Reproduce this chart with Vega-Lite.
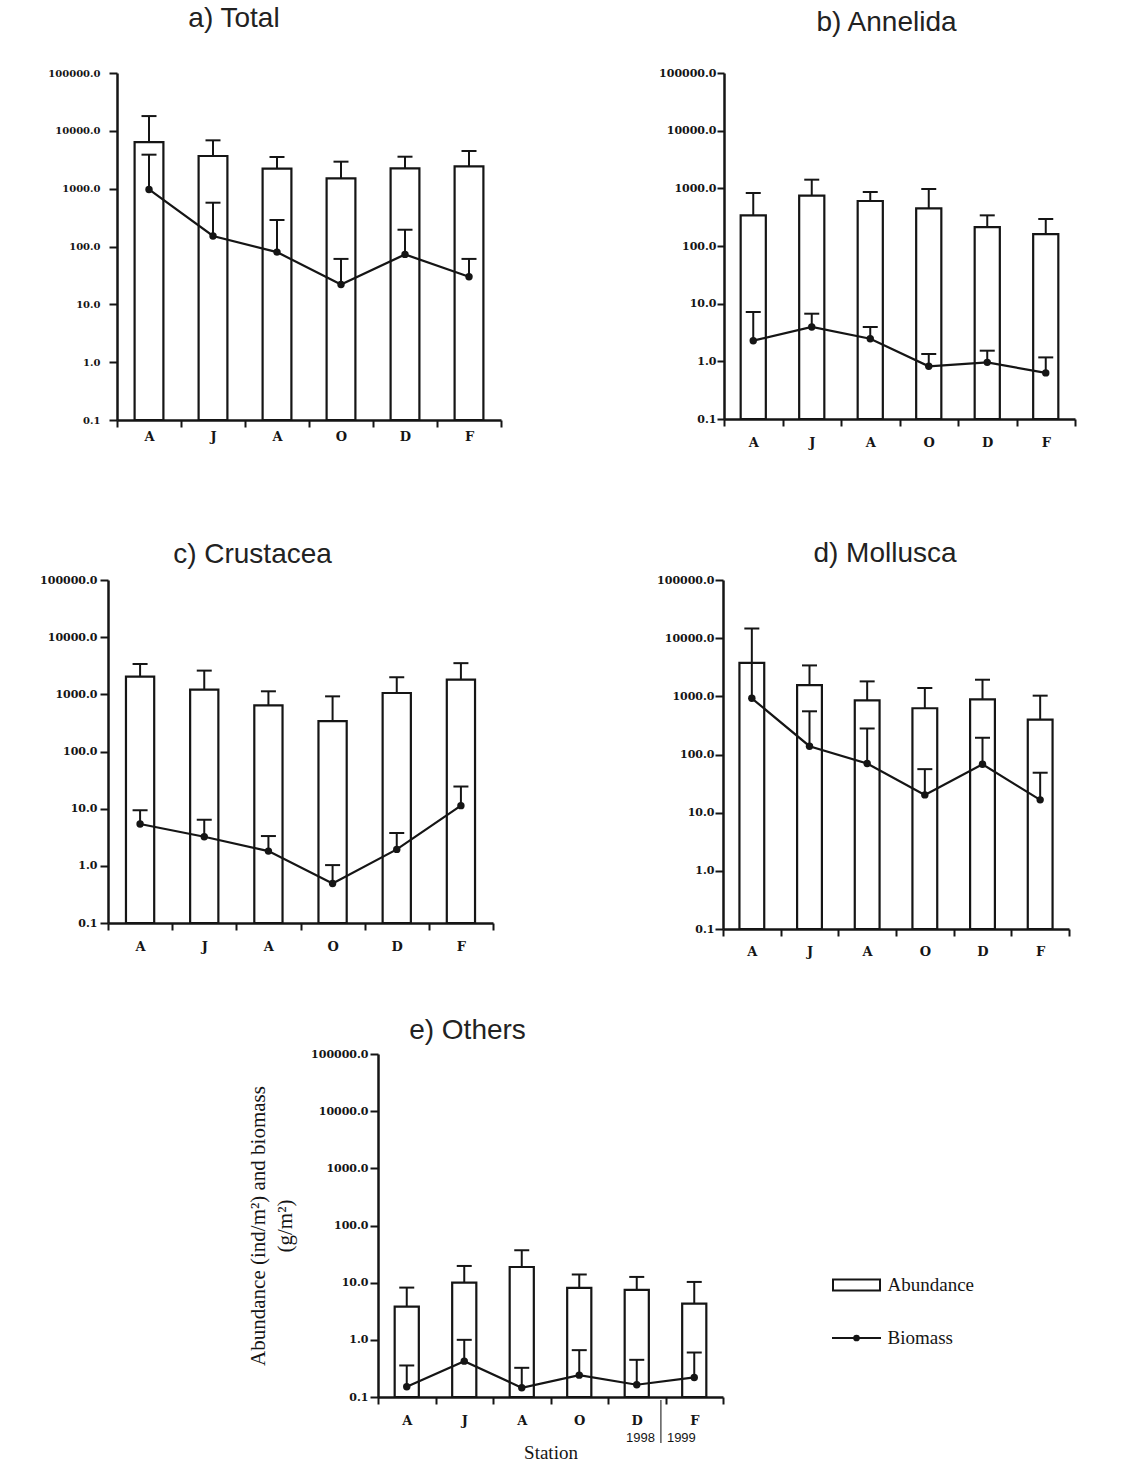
{
  "$schema": "https://vega.github.io/schema/vega-lite/v6.json",
  "padding": {"left": 37, "top": 5, "right": 5, "bottom": 2},
  "background": "white",
  "datasets": {
    "benthos": [
      {"taxon": "Total", "month": "Apr", "abundance": 6400, "abundanceErr": 18000, "biomass": 970, "biomassErr": 3870},
      {"taxon": "Total", "month": "Jun", "abundance": 3670, "abundanceErr": 6850, "biomass": 152, "biomassErr": 572},
      {"taxon": "Total", "month": "Aug", "abundance": 2220, "abundanceErr": 3530, "biomass": 80, "biomassErr": 287},
      {"taxon": "Total", "month": "Oct", "abundance": 1510, "abundanceErr": 2930, "biomass": 22, "biomassErr": 61},
      {"taxon": "Total", "month": "Dec", "abundance": 2250, "abundanceErr": 3570, "biomass": 73, "biomassErr": 195},
      {"taxon": "Total", "month": "Feb", "abundance": 2430, "abundanceErr": 4480, "biomass": 30, "biomassErr": 61},
      {"taxon": "Annelida", "month": "Apr", "abundance": 340, "abundanceErr": 830, "biomass": 2.28, "biomassErr": 7.17},
      {"taxon": "Annelida", "month": "Jun", "abundance": 747, "abundanceErr": 1413, "biomass": 3.94, "biomassErr": 6.7},
      {"taxon": "Annelida", "month": "Aug", "abundance": 603, "abundanceErr": 863, "biomass": 2.47, "biomassErr": 3.94},
      {"taxon": "Annelida", "month": "Oct", "abundance": 450, "abundanceErr": 973, "biomass": 0.82, "biomassErr": 1.34},
      {"taxon": "Annelida", "month": "Dec", "abundance": 213, "abundanceErr": 340, "biomass": 0.96, "biomassErr": 1.53},
      {"taxon": "Annelida", "month": "Feb", "abundance": 161, "abundanceErr": 294, "biomass": 0.63, "biomassErr": 1.17},
      {"taxon": "Crustacea", "month": "Apr", "abundance": 2040, "abundanceErr": 3410, "biomass": 5.4, "biomassErr": 9.4},
      {"taxon": "Crustacea", "month": "Jun", "abundance": 1210, "abundanceErr": 2600, "biomass": 3.23, "biomassErr": 6.4},
      {"taxon": "Crustacea", "month": "Aug", "abundance": 641, "abundanceErr": 1130, "biomass": 1.81, "biomassErr": 3.32},
      {"taxon": "Crustacea", "month": "Oct", "abundance": 340, "abundanceErr": 922, "biomass": 0.49, "biomassErr": 1.03},
      {"taxon": "Crustacea", "month": "Dec", "abundance": 1055, "abundanceErr": 1990, "biomass": 1.94, "biomassErr": 3.75},
      {"taxon": "Crustacea", "month": "Feb", "abundance": 1810, "abundanceErr": 3510, "biomass": 11.3, "biomassErr": 24.4},
      {"taxon": "Mollusca", "month": "Apr", "abundance": 3770, "abundanceErr": 14600, "biomass": 925, "biomassErr": 3750},
      {"taxon": "Mollusca", "month": "Jun", "abundance": 1560, "abundanceErr": 3400, "biomass": 139, "biomassErr": 553},
      {"taxon": "Mollusca", "month": "Aug", "abundance": 855, "abundanceErr": 1807, "biomass": 70, "biomassErr": 280},
      {"taxon": "Mollusca", "month": "Oct", "abundance": 624, "abundanceErr": 1390, "biomass": 20.2, "biomassErr": 56},
      {"taxon": "Mollusca", "month": "Dec", "abundance": 889, "abundanceErr": 1930, "biomass": 68, "biomassErr": 194},
      {"taxon": "Mollusca", "month": "Feb", "abundance": 399, "abundanceErr": 1027, "biomass": 16.6, "biomassErr": 48.6},
      {"taxon": "Others", "month": "Apr", "abundance": 3.82, "abundanceErr": 8.2, "biomass": 0.151, "biomassErr": 0.356},
      {"taxon": "Others", "month": "Jun", "abundance": 10, "abundanceErr": 19.6, "biomass": 0.424, "biomassErr": 1.0},
      {"taxon": "Others", "month": "Aug", "abundance": 18.8, "abundanceErr": 36.9, "biomass": 0.145, "biomassErr": 0.324},
      {"taxon": "Others", "month": "Oct", "abundance": 8.1, "abundanceErr": 13.9, "biomass": 0.241, "biomassErr": 0.66},
      {"taxon": "Others", "month": "Dec", "abundance": 7.5, "abundanceErr": 12.6, "biomass": 0.164, "biomassErr": 0.447},
      {"taxon": "Others", "month": "Feb", "abundance": 4.3, "abundanceErr": 10.3, "biomass": 0.22, "biomassErr": 0.6}
    ]
  },
  "config": {
    "view": {"stroke": null},
    "title": {"font": "Liberation Sans", "fontSize": 28, "fontWeight": "normal", "color": "#222222", "anchor": "middle", "frame": "group", "baseline": "alphabetic"},
    "axis": {
      "grid": false,
      "domainColor": "#151515", "domainWidth": 2.5,
      "tickColor": "#151515", "tickWidth": 2,
      "labelFont": "DejaVu Serif", "labelFontWeight": "bold", "labelColor": "#151515",
      "labelOverlap": false
    },
    "axisX": {"tickSize": 7, "labelFontSize": 13, "labelAngle": 0},
    "axisY": {"tickSize": 8, "labelFontSize": 11}
  },
  "spacing": 38,
  "vconcat": [
    {
      "bounds": "flush",
      "spacing": 8,
      "hconcat": [
        {"width": 1, "height": 347, "data": {"values": []}, "mark": "text"},
        {
          "bounds": "flush",
          "spacing": 223,
          "hconcat": [
            {
              "width": 384, "height": 347,
              "data": {"name": "benthos"},
              "transform": [{"filter": "datum.taxon === 'Total'"}],
              "title": {"text": "a) Total", "dx": -75, "offset": 35},
              "encoding": {
                "x": {"field": "month", "type": "nominal", "sort": ["Apr", "Jun", "Aug", "Oct", "Dec", "Feb"],
                      "scale": {"paddingInner": 0, "paddingOuter": 0},
                      "axis": {"title": null, "labelExpr": "substring(datum.label, 0, 1)", "tickBand": "extent", "labelPadding": 3.5, "minExtent": 82, "maxExtent": 82}}
              },
              "layer": [
                {"mark": {"type": "bar", "width": {"band": 0.45}, "fill": "white", "stroke": "#151515", "strokeWidth": 2.2},
                 "encoding": {"y": {"field": "abundance", "type": "quantitative", "title": null,
                                    "scale": {"type": "log", "domain": [0.1, 100000], "nice": false},
                                    "axis": {"values": [0.1, 1, 10, 100, 1000, 10000, 100000], "format": ".1f", "labelPadding": 9, "labelFontSize": 10, "minExtent": 80, "maxExtent": 80}},
                              "y2": {"datum": 0.1}}},
                {"mark": {"type": "rule", "stroke": "#151515", "strokeWidth": 2},
                 "encoding": {"y": {"field": "abundance", "type": "quantitative", "title": null}, "y2": {"field": "abundanceErr"}}},
                {"mark": {"type": "tick", "orient": "horizontal", "size": 15, "thickness": 2, "color": "#151515", "opacity": 1},
                 "encoding": {"y": {"field": "abundanceErr", "type": "quantitative", "title": null}}},
                {"mark": {"type": "rule", "stroke": "#151515", "strokeWidth": 2},
                 "encoding": {"y": {"field": "biomass", "type": "quantitative", "title": null}, "y2": {"field": "biomassErr"}}},
                {"mark": {"type": "tick", "orient": "horizontal", "size": 15, "thickness": 2, "color": "#151515", "opacity": 1},
                 "encoding": {"y": {"field": "biomassErr", "type": "quantitative", "title": null}}},
                {"mark": {"type": "line", "color": "#151515", "strokeWidth": 2.2},
                 "encoding": {"y": {"field": "biomass", "type": "quantitative", "title": null}}},
                {"mark": {"type": "point", "filled": true, "size": 55, "color": "#151515", "opacity": 1},
                 "encoding": {"y": {"field": "biomass", "type": "quantitative", "title": null}}}
              ]
            },
            {
              "width": 351, "height": 346,
              "data": {"name": "benthos"},
              "transform": [{"filter": "datum.taxon === 'Annelida'"}],
              "title": {"text": "b) Annelida", "dx": -13, "offset": 30},
              "encoding": {
                "x": {"field": "month", "type": "nominal", "sort": ["Apr", "Jun", "Aug", "Oct", "Dec", "Feb"],
                      "scale": {"paddingInner": 0, "paddingOuter": 0},
                      "axis": {"title": null, "labelExpr": "substring(datum.label, 0, 1)", "tickBand": "extent", "labelPadding": 10.5, "minExtent": 82, "maxExtent": 82}}
              },
              "layer": [
                {"mark": {"type": "bar", "width": {"band": 0.43}, "fill": "white", "stroke": "#151515", "strokeWidth": 2.2},
                 "encoding": {"y": {"field": "abundance", "type": "quantitative", "title": null,
                                    "scale": {"type": "log", "domain": [0.1, 100000], "nice": false},
                                    "axis": {"values": [0.1, 1, 10, 100, 1000, 10000, 100000], "format": ".1f", "labelPadding": 1, "tickSize": 7, "minExtent": 67, "maxExtent": 67}},
                              "y2": {"datum": 0.1}}},
                {"mark": {"type": "rule", "stroke": "#151515", "strokeWidth": 2},
                 "encoding": {"y": {"field": "abundance", "type": "quantitative", "title": null}, "y2": {"field": "abundanceErr"}}},
                {"mark": {"type": "tick", "orient": "horizontal", "size": 15, "thickness": 2, "color": "#151515", "opacity": 1},
                 "encoding": {"y": {"field": "abundanceErr", "type": "quantitative", "title": null}}},
                {"mark": {"type": "rule", "stroke": "#151515", "strokeWidth": 2},
                 "encoding": {"y": {"field": "biomass", "type": "quantitative", "title": null}, "y2": {"field": "biomassErr"}}},
                {"mark": {"type": "tick", "orient": "horizontal", "size": 15, "thickness": 2, "color": "#151515", "opacity": 1},
                 "encoding": {"y": {"field": "biomassErr", "type": "quantitative", "title": null}}},
                {"mark": {"type": "line", "color": "#151515", "strokeWidth": 2.2},
                 "encoding": {"y": {"field": "biomass", "type": "quantitative", "title": null}}},
                {"mark": {"type": "point", "filled": true, "size": 55, "color": "#151515", "opacity": 1},
                 "encoding": {"y": {"field": "biomass", "type": "quantitative", "title": null}}}
              ]
            }
          ]
        }
      ]
    },
    {
      "bounds": "flush",
      "spacing": 230,
      "hconcat": [
        {
          "width": 385, "height": 343,
          "data": {"name": "benthos"},
          "transform": [{"filter": "datum.taxon === 'Crustacea'"}],
          "title": {"text": "c) Crustacea", "dx": -48, "offset": 5},
          "encoding": {
            "x": {"field": "month", "type": "nominal", "sort": ["Apr", "Jun", "Aug", "Oct", "Dec", "Feb"],
                  "scale": {"paddingInner": 0, "paddingOuter": 0},
                  "axis": {"title": null, "labelExpr": "substring(datum.label, 0, 1)", "tickBand": "extent", "labelPadding": 10.5, "minExtent": 50, "maxExtent": 50}}
          },
          "layer": [
            {"mark": {"type": "bar", "width": {"band": 0.44}, "fill": "white", "stroke": "#151515", "strokeWidth": 2.2},
             "encoding": {"y": {"field": "abundance", "type": "quantitative", "title": null,
                                "scale": {"type": "log", "domain": [0.1, 100000], "nice": false},
                                "axis": {"values": [0.1, 1, 10, 100, 1000, 10000, 100000], "format": ".1f", "labelPadding": 3, "minExtent": 71, "maxExtent": 71}},
                          "y2": {"datum": 0.1}}},
            {"mark": {"type": "rule", "stroke": "#151515", "strokeWidth": 2},
             "encoding": {"y": {"field": "abundance", "type": "quantitative", "title": null}, "y2": {"field": "abundanceErr"}}},
            {"mark": {"type": "tick", "orient": "horizontal", "size": 15, "thickness": 2, "color": "#151515", "opacity": 1},
             "encoding": {"y": {"field": "abundanceErr", "type": "quantitative", "title": null}}},
            {"mark": {"type": "rule", "stroke": "#151515", "strokeWidth": 2},
             "encoding": {"y": {"field": "biomass", "type": "quantitative", "title": null}, "y2": {"field": "biomassErr"}}},
            {"mark": {"type": "tick", "orient": "horizontal", "size": 15, "thickness": 2, "color": "#151515", "opacity": 1},
             "encoding": {"y": {"field": "biomassErr", "type": "quantitative", "title": null}}},
            {"mark": {"type": "line", "color": "#151515", "strokeWidth": 2.2},
             "encoding": {"y": {"field": "biomass", "type": "quantitative", "title": null}}},
            {"mark": {"type": "point", "filled": true, "size": 55, "color": "#151515", "opacity": 1},
             "encoding": {"y": {"field": "biomass", "type": "quantitative", "title": null}}}
          ]
        },
        {
          "width": 346, "height": 349,
          "data": {"name": "benthos"},
          "transform": [{"filter": "datum.taxon === 'Mollusca'"}],
          "title": {"text": "d) Mollusca", "dx": -11, "offset": 6},
          "encoding": {
            "x": {"field": "month", "type": "nominal", "sort": ["Apr", "Jun", "Aug", "Oct", "Dec", "Feb"],
                  "scale": {"paddingInner": 0, "paddingOuter": 0},
                  "axis": {"title": null, "labelExpr": "substring(datum.label, 0, 1)", "tickBand": "extent", "labelPadding": 9, "minExtent": 50, "maxExtent": 50}}
          },
          "layer": [
            {"mark": {"type": "bar", "width": {"band": 0.43}, "fill": "white", "stroke": "#151515", "strokeWidth": 2.2},
             "encoding": {"y": {"field": "abundance", "type": "quantitative", "title": null,
                                "scale": {"type": "log", "domain": [0.1, 100000], "nice": false},
                                "axis": {"values": [0.1, 1, 10, 100, 1000, 10000, 100000], "format": ".1f", "labelPadding": 1, "minExtent": 66, "maxExtent": 66}},
                          "y2": {"datum": 0.1}}},
            {"mark": {"type": "rule", "stroke": "#151515", "strokeWidth": 2},
             "encoding": {"y": {"field": "abundance", "type": "quantitative", "title": null}, "y2": {"field": "abundanceErr"}}},
            {"mark": {"type": "tick", "orient": "horizontal", "size": 15, "thickness": 2, "color": "#151515", "opacity": 1},
             "encoding": {"y": {"field": "abundanceErr", "type": "quantitative", "title": null}}},
            {"mark": {"type": "rule", "stroke": "#151515", "strokeWidth": 2},
             "encoding": {"y": {"field": "biomass", "type": "quantitative", "title": null}, "y2": {"field": "biomassErr"}}},
            {"mark": {"type": "tick", "orient": "horizontal", "size": 15, "thickness": 2, "color": "#151515", "opacity": 1},
             "encoding": {"y": {"field": "biomassErr", "type": "quantitative", "title": null}}},
            {"mark": {"type": "line", "color": "#151515", "strokeWidth": 2.2},
             "encoding": {"y": {"field": "biomass", "type": "quantitative", "title": null}}},
            {"mark": {"type": "point", "filled": true, "size": 55, "color": "#151515", "opacity": 1},
             "encoding": {"y": {"field": "biomass", "type": "quantitative", "title": null}}}
          ]
        }
      ]
    },
    {
      "bounds": "flush",
      "spacing": 20,
      "hconcat": [
        {"width": 250, "height": 343, "data": {"values": []}, "mark": "text"},
        {
          "width": 345, "height": 343,
          "data": {"name": "benthos"},
          "transform": [{"filter": "datum.taxon === 'Others'"}],
          "title": {"text": "e) Others", "dx": -83, "offset": 3},
          "encoding": {
            "x": {"field": "month", "type": "nominal", "sort": ["Apr", "Jun", "Aug", "Oct", "Dec", "Feb"],
                  "scale": {"paddingInner": 0, "paddingOuter": 0},
                  "axis": {"title": "Station", "titleFont": "Liberation Serif", "titleFontSize": 19, "titleFontWeight": "normal", "titleColor": "#151515", "titlePadding": 11,
                           "labelExpr": "substring(datum.label, 0, 1)", "tickBand": "extent", "labelPadding": 10.5, "minExtent": 35, "maxExtent": 35}}
          },
          "layer": [
            {"mark": {"type": "bar", "width": {"band": 0.42}, "fill": "white", "stroke": "#151515", "strokeWidth": 2.2},
             "encoding": {"y": {"field": "abundance", "type": "quantitative",
                                "scale": {"type": "log", "domain": [0.1, 100000], "nice": false},
                                "axis": {"title": ["Abundance (ind/m²) and biomass", "(g/m²)"], "titleFont": "Liberation Serif", "titleFontSize": 21, "titleFontWeight": "normal", "titleColor": "#151515", "titleLineHeight": 27, "titlePadding": 16,
                                         "values": [0.1, 1, 10, 100, 1000, 10000, 100000], "format": ".1f", "labelPadding": 2, "minExtent": 67, "maxExtent": 67}},
                          "y2": {"datum": 0.1}}},
            {"mark": {"type": "rule", "stroke": "#151515", "strokeWidth": 2},
             "encoding": {"y": {"field": "abundance", "type": "quantitative"}, "y2": {"field": "abundanceErr"}}},
            {"mark": {"type": "tick", "orient": "horizontal", "size": 15, "thickness": 2, "color": "#151515", "opacity": 1},
             "encoding": {"y": {"field": "abundanceErr", "type": "quantitative"}}},
            {"mark": {"type": "rule", "stroke": "#151515", "strokeWidth": 2},
             "encoding": {"y": {"field": "biomass", "type": "quantitative"}, "y2": {"field": "biomassErr"}}},
            {"mark": {"type": "tick", "orient": "horizontal", "size": 15, "thickness": 2, "color": "#151515", "opacity": 1},
             "encoding": {"y": {"field": "biomassErr", "type": "quantitative"}}},
            {"mark": {"type": "line", "color": "#151515", "strokeWidth": 2.2},
             "encoding": {"y": {"field": "biomass", "type": "quantitative"}}},
            {"mark": {"type": "point", "filled": true, "size": 55, "color": "#151515", "opacity": 1},
             "encoding": {"y": {"field": "biomass", "type": "quantitative"}}},
            {"data": {"values": [{"year": "1998"}]},
             "mark": {"type": "rule", "stroke": "#333333", "strokeWidth": 1.2},
             "encoding": {"x": {"datum": "Dec", "bandPosition": 0.92}, "y": {"datum": 0.0886, "type": "quantitative"}, "y2": {"datum": 0.0157}}},
            {"data": {"values": [{"year": "1998"}]},
             "mark": {"type": "text", "align": "right", "baseline": "middle", "dx": -6, "font": "Liberation Sans", "fontSize": 13, "color": "#151515"},
             "encoding": {"x": {"datum": "Dec", "bandPosition": 0.92}, "y": {"datum": 0.0192, "type": "quantitative"}, "text": {"field": "year"}}},
            {"data": {"values": [{"year": "1999"}]},
             "mark": {"type": "text", "align": "left", "baseline": "middle", "dx": 6, "font": "Liberation Sans", "fontSize": 13, "color": "#151515"},
             "encoding": {"x": {"datum": "Dec", "bandPosition": 0.92}, "y": {"datum": 0.0192, "type": "quantitative"}, "text": {"field": "year"}}}
          ]
        },
        {
          "width": 227, "height": 343,
          "data": {"values": [{"series": "Abundance"}, {"series": "Biomass"}]},
          "encoding": {
            "y": {"field": "series", "type": "nominal", "axis": null,
                  "scale": {"type": "point", "domain": ["Abundance", "Biomass"], "range": [231, 284], "padding": 0}}
          },
          "layer": [
            {"transform": [{"filter": "datum.series === 'Abundance'"}],
             "mark": {"type": "point", "shape": "M-1,-0.23H1V0.23H-1Z", "size": 2209, "filled": true, "fill": "white", "stroke": "#151515", "strokeWidth": 2, "opacity": 1}},
            {"transform": [{"filter": "datum.series === 'Biomass'"}],
             "mark": {"type": "point", "shape": "M-1,0H1", "size": 2401, "filled": false, "stroke": "#151515", "strokeWidth": 2, "opacity": 1}},
            {"transform": [{"filter": "datum.series === 'Biomass'"}],
             "mark": {"type": "point", "filled": true, "size": 45, "color": "#151515", "opacity": 1}},
            {"mark": {"type": "text", "align": "left", "baseline": "middle", "dx": 31, "font": "Liberation Serif", "fontSize": 19, "color": "#151515"},
             "encoding": {"text": {"field": "series"}}}
          ]
        }
      ]
    }
  ]
}
